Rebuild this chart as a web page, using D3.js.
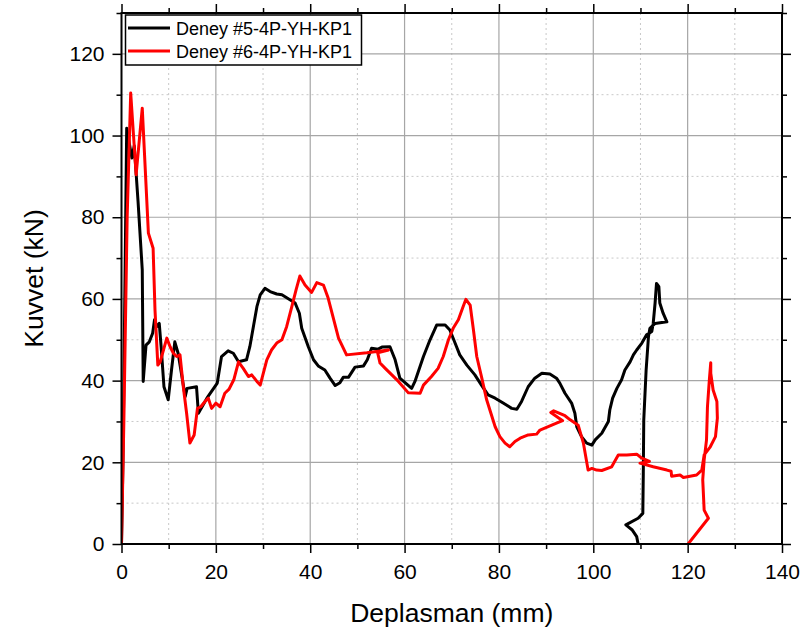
<!DOCTYPE html>
<html>
<head>
<meta charset="utf-8">
<script src="https://cdn.jsdelivr.net/npm/d3@7"></script>
<style>
html,body{margin:0;padding:0;background:#fff;}
svg{display:block;font-family:"Liberation Sans",Arial,sans-serif;}
</style>
</head>
<body>
<svg id="chart" width="809" height="639"></svg>
<script>
// ---- data ----
const seriesNames = ["Deney #5-4P-YH-KP1", "Deney #6-4P-YH-KP1"];
const seriesColors = ["#000000", "#ff0000"];
const xMajorTicks = [0, 20, 40, 60, 80, 100, 120, 140];
const yMajorTicks = [0, 20, 40, 60, 80, 100, 120];
const xMinorTicks = [10, 30, 50, 70, 90, 110, 130];
const yMinorTicks = [10, 30, 50, 70, 90, 110, 130];
const xLabel = "Deplasman (mm)";
const yLabel = "Kuvvet (kN)";

const deney5Disp = [0,0.3,0.7,1.1,2.2,2.7,3.5,4.4,4.6,5.2,5.9,6.6,7.0,7.5,8.0,8.4,9.0,9.9,10.6,11.3,12.0,13.5,13.9,15.9,16.3,18.1,20.3,21.2,22.6,23.7,24.8,26.5,27.2,28.7,29.4,30.4,31.5,32.9,34.0,35.7,36.8,37.7,38.2,39.6,40.7,41.7,43.1,44.2,45.3,46.3,47.0,48.1,49.5,51.3,52.1,53.0,54.4,55.2,56.9,58.0,59.0,61.5,62.2,64.0,65.4,66.8,68.6,69.6,70.7,71.7,73.2,74.9,76.3,77.7,79.2,80.9,82.7,83.8,84.8,86.2,87.6,89.1,90.8,92.2,92.9,94.0,95.4,96.1,96.5,97.5,98.6,99.7,100.4,101.8,103.2,103.5,104.1,105.0,106.0,106.7,107.8,108.5,109.2,110.3,111.3,112.4,112.7,113.1,113.4,113.9,114.1,114.8,115.6,113.1,112.0,111.7,111.2,110.7,110.6,110.5,109.5,106.9,108.2,109.2,109.5];
const deney5Force = [0,20,60,101.8,94.5,97.5,84,67.1,39.8,48.7,49.5,51.6,54.9,53.2,54.0,48.3,38.5,35.3,42.6,49.5,46.7,36.1,38.1,38.5,32.0,35.7,39.4,45.9,47.3,46.7,44.6,45.1,48.3,58.1,61.0,62.6,61.8,61.2,61.0,59.8,59.0,56.5,52.8,48.3,45.1,43.6,42.6,40.6,38.8,39.5,40.8,40.8,43.3,43.6,45.1,47.9,47.7,48.2,48.3,45.1,40.6,38.1,39.8,45.9,50.0,53.6,53.6,52.4,49.2,46.3,43.8,41.4,38.9,36.5,35.7,34.5,33.2,33.0,34.9,38.5,40.6,41.8,41.6,40.6,39.4,36.9,34.5,32.0,28.7,26.3,24.7,24.2,25.5,27.1,30.0,32.8,35.7,38.1,40.2,42.6,44.6,46.3,47.5,49.2,51.2,52.0,54.0,59.0,63.8,63.0,59.0,56.5,54.4,54.0,52.8,50.8,42.6,30.4,17.3,7.5,6.3,4.7,3.5,1.8,0];

const deney6Disp = [0,0.5,1.2,1.95,3.1,4.4,5.7,6.7,7.1,7.7,8.2,9.6,10.3,11.0,11.7,12.4,13.1,13.8,14.5,15.4,16.1,16.8,17.7,18.4,19.1,20.0,20.9,21.9,22.8,23.8,24.8,25.8,26.9,27.6,28.7,29.4,30.8,31.8,32.9,34.0,35.0,36.1,37.0,37.8,38.9,40.3,41.4,42.8,43.8,44.9,46.0,47.7,52.0,56.6,54.3,54.8,55.9,57.3,58.7,60.8,63.3,64.0,65.7,67.1,68.2,69.3,70.3,71.4,72.4,73.0,73.9,74.6,75.3,76.3,77.4,79.2,80.2,81.3,82.3,83.4,84.5,86.2,88.0,88.7,92.2,93.5,91.0,91.6,94.0,95.1,96.8,97.9,98.9,99.7,100.7,101.8,103.9,105.3,107.1,109.2,110.3,111.9,109.9,112.7,115.6,116.5,116.6,118.4,119.1,121.9,123.0,123.5,124.8,125.9,126.3,126.2,125.4,124.9,124.9,124.6,124.2,124.0,123.5,123.2,123.5,124.4,120.1];
const deney6Force = [0,30,80,110.4,90.4,106.7,76.1,72.4,57.3,43.8,44.6,50.4,48.3,46.7,45.9,46.3,38.5,32.0,24.7,26.7,33.2,33.6,34.9,35.7,33.2,34.5,33.6,36.9,37.9,40.2,44.6,43.0,41.0,41.4,39.8,38.9,45.1,47.5,49.2,50.0,53.2,58.1,62.2,65.6,63.4,61.6,64.0,63.4,60.2,55.3,50.4,46.3,46.8,47.5,46.8,44.3,43.0,41.4,39.8,37.0,36.9,38.9,41.0,43.0,45.9,50.0,52.8,54.9,58.1,59.9,58.5,52.4,45.9,41.0,35.3,28.7,26.3,24.7,23.8,25.1,25.9,26.7,26.9,27.9,29.6,30.2,32.2,32.6,31.4,30.4,29.1,24.7,18.1,18.5,18.1,18.0,18.9,21.8,21.8,22.0,21.0,20.2,19.8,18.9,18.1,17.8,16.6,16.9,16.3,16.9,18.1,21.8,23.8,26.3,30.8,34.9,37.7,41.8,44.4,40.2,33.6,25.5,20.6,15.7,8.3,6.3,0];

// ---- layout ----
const svg = d3.select("#chart");
const L = 121.5, R = 782, T = 13, B = 544;
const x = d3.scaleLinear().domain([0, 140]).range([L, R]);
const y = d3.scaleLinear().domain([0, 130]).range([B, T]);

svg.append("rect").attr("width", 809).attr("height", 639).attr("fill", "#fff");

// grid
const grid = svg.append("g");
grid.selectAll(".gxm").data(xMinorTicks.filter(v => v < 140)).join("line")
  .attr("x1", d => x(d)).attr("x2", d => x(d)).attr("y1", T).attr("y2", B)
  .attr("stroke", "#c8c8c8").attr("stroke-width", 1).attr("stroke-dasharray", "2,3");
grid.selectAll(".gym").data(yMinorTicks.filter(v => v < 130)).join("line")
  .attr("y1", d => y(d)).attr("y2", d => y(d)).attr("x1", L).attr("x2", R)
  .attr("stroke", "#c8c8c8").attr("stroke-width", 1).attr("stroke-dasharray", "2,3");
grid.selectAll(".gx").data(xMajorTicks.filter(v => v > 0 && v < 140)).join("line")
  .attr("x1", d => x(d)).attr("x2", d => x(d)).attr("y1", T).attr("y2", B)
  .attr("stroke", "#a6a6a6").attr("stroke-width", 1.2);
grid.selectAll(".gy").data(yMajorTicks.filter(v => v > 0)).join("line")
  .attr("y1", d => y(d)).attr("y2", d => y(d)).attr("x1", L).attr("x2", R)
  .attr("stroke", "#a6a6a6").attr("stroke-width", 1.2);

// data lines
svg.append("clipPath").attr("id", "clip").append("rect")
  .attr("x", L).attr("y", T).attr("width", R - L).attr("height", B - T);
const line = d3.line().x(d => x(d[0])).y(d => y(d[1]));
const series = [
  d3.zip(deney5Disp, deney5Force),
  d3.zip(deney6Disp, deney6Force)
];
const plot = svg.append("g").attr("clip-path", "url(#clip)");
series.forEach((s, i) => {
  plot.append("path").datum(s).attr("d", line).attr("fill", "none")
    .attr("stroke", seriesColors[i]).attr("stroke-width", 3)
    .attr("stroke-linejoin", "round").attr("stroke-linecap", "round");
});

// axes
function styleAxis(g) {
  g.select(".domain").remove();
  g.selectAll(".tick line").attr("stroke", "#000").attr("stroke-width", 1.5);
  g.selectAll(".tick text").attr("fill", "#000").attr("font-size", 21)
    .attr("font-family", "Liberation Sans, Arial, sans-serif");
}
function addAxis(axisFn, transform, ticks, size, labels, pad) {
  const a = axisFn.tickValues(ticks).tickSize(size).tickPadding(pad || 6)
    .tickFormat(labels ? d3.format("d") : "");
  const g = svg.append("g").attr("transform", transform).call(a);
  styleAxis(g);
  return g;
}
addAxis(d3.axisBottom(x), `translate(0,${B})`, xMajorTicks, 9, true, 11);
addAxis(d3.axisBottom(x), `translate(0,${B})`, xMinorTicks, 5, false);
addAxis(d3.axisLeft(y), `translate(${L},0)`, yMajorTicks, 9, true, 8);
addAxis(d3.axisLeft(y), `translate(${L},0)`, yMinorTicks, 5, false);
addAxis(d3.axisTop(x), `translate(0,${T})`, xMajorTicks, 9, false);
addAxis(d3.axisTop(x), `translate(0,${T})`, xMinorTicks, 5, false);
addAxis(d3.axisRight(y), `translate(${R},0)`, yMajorTicks, 9, false);
addAxis(d3.axisRight(y), `translate(${R},0)`, yMinorTicks, 5, false);

// frame
svg.append("rect").attr("x", L).attr("y", T).attr("width", R - L).attr("height", B - T)
  .attr("fill", "none").attr("stroke", "#000").attr("stroke-width", 2);

// axis titles
svg.append("text").attr("x", (L + R) / 2).attr("y", 622).attr("text-anchor", "middle")
  .attr("font-size", 26.5).attr("fill", "#000").text(xLabel);
svg.append("text").attr("transform", `translate(43,${(T + B) / 2}) rotate(-90)`)
  .attr("text-anchor", "middle").attr("font-size", 26.5).attr("fill", "#000").text(yLabel);

// legend
const lg = svg.append("g");
lg.append("rect").attr("x", 125.5).attr("y", 15).attr("width", 236).attr("height", 50)
  .attr("fill", "#fff").attr("stroke", "#000").attr("stroke-width", 1.5);
seriesNames.forEach((n, i) => {
  const yy = 28 + i * 23;
  lg.append("line").attr("x1", 128).attr("x2", 170).attr("y1", yy).attr("y2", yy)
    .attr("stroke", seriesColors[i]).attr("stroke-width", 3);
  lg.append("text").attr("x", 176).attr("y", yy + 6.5).attr("font-size", 18)
    .attr("fill", "#000").text(n);
});
</script>
</body>
</html>
